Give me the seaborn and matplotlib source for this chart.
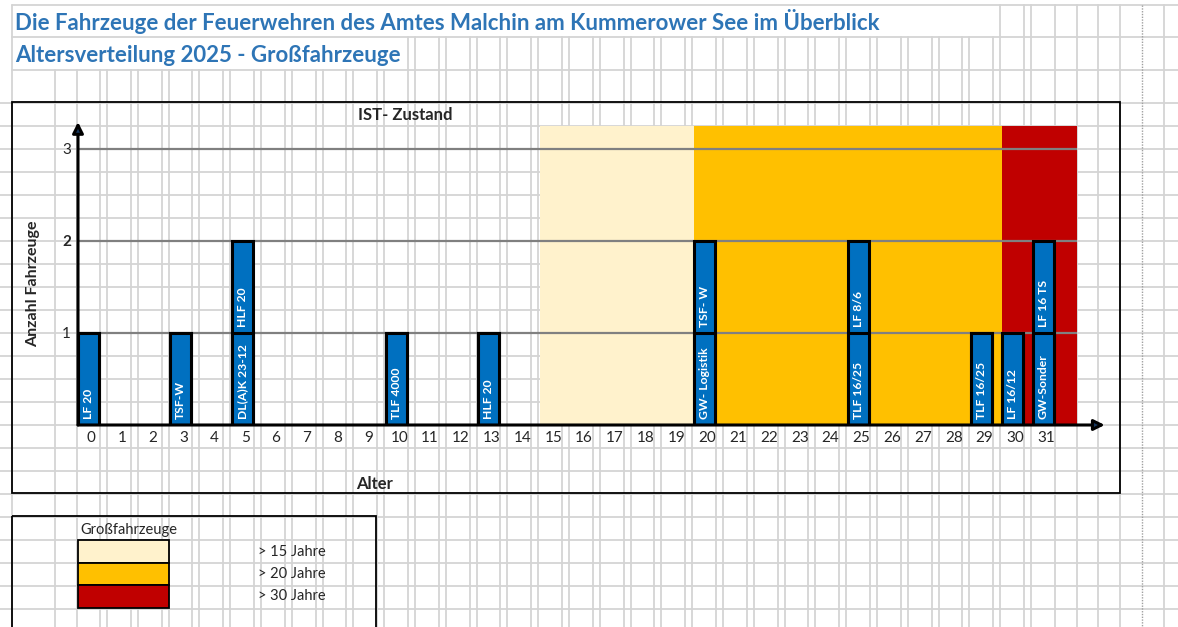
import matplotlib
matplotlib.use("Agg")
import matplotlib.pyplot as plt
from matplotlib.patches import Rectangle
from matplotlib.transforms import ScaledTranslation
import numpy as np
import pandas as pd
import seaborn as sns

# data
ages = [0, 3, 5, 5, 10, 13, 20, 20, 25, 25, 29, 30, 31, 31]
names = ["LF 20", "TSF-W", "DL(A)K 23-12", "HLF 20", "TLF 4000", "HLF 20",
         "GW- Logistik", "TSF- W", "TLF 16/25", "LF 8/6", "TLF 16/25",
         "LF 16/12", "GW-Sonder", "LF 16 TS"]
x_ticks = list(range(0, 32))
y_ticks = [1, 2, 3]

band_labels = ["> 15 Jahre", "> 20 Jahre", "> 30 Jahre"]
band_colors = ["#FFF2CC", "#FFC000", "#C00000"]
band_start = [14.67, 19.67, 29.67]
band_end = [19.67, 29.67, 32.1]
band_top = 3.25

title1 = "Die Fahrzeuge der Feuerwehren des Amtes Malchin am Kummerower See im Überblick"
title2 = "Altersverteilung 2025 - Großfahrzeuge"

BLUE = "#0070C0"
W, H = 1178, 627

sns.set_theme(style="white")
plt.rcParams["font.family"] = ["Lato", "DejaVu Sans"]

df = pd.DataFrame({"Alter": ages, "Fahrzeug": names})
df["Ebene"] = df.groupby("Alter").cumcount()

fig = plt.figure(figsize=(W / 100, H / 100), dpi=100)

# spreadsheet background in pixel coordinates
bg = fig.add_axes([0, 0, 1, 1], zorder=0)
bg.set_xlim(0, W)
bg.set_ylim(H, 0)
bg.axis("off")
grid_c = "#D4D4D4"
rows = [5, 37, 70] + [103 + 23 * k for k in range(23)]
for y in rows:
    bg.plot([0 if y > 70 else 12, W], [y, y], color=grid_c, lw=1.3, zorder=0)
cols = [12, 55, 77]
for k in range(31):
    cols += [100 + 30.8 * k, 107 + 30.8 * k]
cols += [1055, 1077, 1098, 1120, 1164]
for x in cols:
    top = 5 if (x >= 1000 or x == 12) else (37 if x >= 400 else 70)
    bg.plot([x, x], [top, H], color=grid_c, lw=1.3, zorder=0)
bg.plot([1142, 1142], [5, H], color="#A0A0A0", lw=1, ls=(0, (1, 1)), zorder=0)

# chart box and legend box
bg.add_patch(Rectangle((12, 102), 1108, 391, fill=False, ec="black", lw=1.3, zorder=1))
bg.add_patch(Rectangle((12, 516), 364, 130, fill=False, ec="black", lw=1.3, zorder=1))

bg.text(15, 22, title1, color="#2E75B6", fontsize=16, fontweight="bold", va="center", ha="left")
bg.text(15, 56, title2, color="#2E75B6", fontsize=16, fontweight="bold", va="center", ha="left")

# legend
bg.text(80, 530, "Großfahrzeuge", fontsize=10.5, va="center", ha="left")
for i, (lab, col) in enumerate(zip(band_labels, band_colors)):
    y0 = 540 + 22.5 * i
    bg.add_patch(Rectangle((78, y0), 91, 22.5, fc=col, ec="black", lw=1.3, zorder=2))
    bg.text(258, y0 + 11.5, lab, fontsize=10.5, va="center", ha="left")

# main plot area
xmin, xmax = -0.33, 32.1
ymax = 3.29
ax = fig.add_axes([78 / W, 1 - 425 / H, 999 / W, (425 - 122) / H], zorder=2)
ax.patch.set_alpha(0)

ax.bar(band_start, band_top, width=np.subtract(band_end, band_start),
       align="edge", color=band_colors, lw=0, zorder=0.2)

sns.countplot(data=df, x="Alter", native_scale=True, width=0.68, color=BLUE,
              saturation=1, edgecolor="black", linewidth=2.2, ax=ax, zorder=2)
sns.countplot(data=df[df["Ebene"] == 0], x="Alter", native_scale=True, width=0.68,
              color=BLUE, saturation=1, edgecolor="black", linewidth=2.2, ax=ax, zorder=2)

for _, r in df.iterrows():
    ax.text(r["Alter"], r["Ebene"] + 0.06, r["Fahrzeug"], rotation=90, ha="center",
            va="bottom", color="white", fontsize=8.7, fontweight="bold", zorder=3)

ax.set_xlim(xmin, xmax)
ax.set_ylim(0, ymax)
ax.set_xticks(x_ticks)
ax.set_yticks(y_ticks)
ax.set_xticklabels([str(t) for t in x_ticks], fontsize=11)
ax.set_yticklabels([str(t) for t in y_ticks], fontsize=11)
ax.get_yticklabels()[1].set_fontweight("bold")
ax.tick_params(axis="both", length=0)
ax.tick_params(axis="x", pad=4)
ax.tick_params(axis="y", pad=5)
shift = ScaledTranslation(3 / 100, 0, fig.dpi_scale_trans)
for lbl in ax.get_xticklabels():
    lbl.set_transform(lbl.get_transform() + shift)
ax.set_xlabel("")
ax.set_ylabel("")
ax.grid(axis="y", color="#808080", lw=1.6)
ax.grid(axis="x", visible=False)
ax.set_axisbelow(True)
for s in ax.spines.values():
    s.set_visible(False)

arrow = dict(arrowstyle="-|>", mutation_scale=16, color="black", lw=2.2,
             shrinkA=0, shrinkB=0)
ax.annotate("", xy=(xmin, ymax), xytext=(xmin, 0), arrowprops=dict(arrow, fc="#17375E"),
            annotation_clip=False, zorder=4)
ax.annotate("", xy=(33.0, 0), xytext=(xmin, 0), arrowprops=dict(arrow, fc="#17375E"),
            annotation_clip=False, zorder=4)

fig.text(33 / W, 1 - 284 / H, "Anzahl Fahrzeuge", rotation=90, fontsize=11.5,
         fontweight="bold", ha="center", va="center")
fig.text(375 / W, 1 - 484 / H, "Alter", fontsize=12, fontweight="bold",
         ha="center", va="center")
fig.text(405 / W, 1 - 115 / H, "IST- Zustand", fontsize=12, fontweight="bold",
         ha="center", va="center")

fig.savefig("out.png", dpi=100)
